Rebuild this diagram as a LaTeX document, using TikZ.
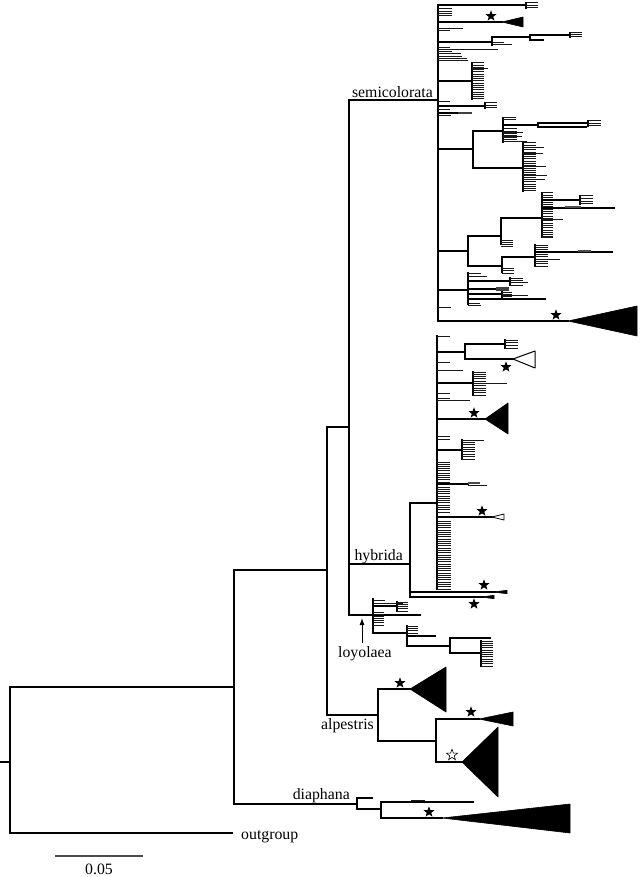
\documentclass[tikz,border=0pt]{standalone}
\usepackage{fontspec}
\setmainfont{Liberation Serif}
\usetikzlibrary{shapes.geometric,arrows.meta}
\tikzset{
 br/.style={line width=1.2pt,line cap=rect},
 tk/.style={line width=1.0pt,black!90},
 lbl/.style={font=\fontsize{15.8}{18}\selectfont,inner sep=0pt},
 fstar/.style={star,star points=5,star point ratio=2.4,minimum size=11.5pt,inner sep=0pt,fill=black},
 ostar/.style={star,star points=5,star point ratio=2.4,minimum size=11.5pt,inner sep=0pt,draw=black,line width=0.6pt,fill=white},
 clade/.style={fill=black,draw=black,line width=0.6pt,line join=round},
 oclade/.style={fill=white,draw=black,line width=1pt,line join=round},
}
% ticks: x0, x1, ytop, ybottom
\newcommand{\tks}[4]{%
  \pgfmathtruncatemacro{\tkn}{round((#4-#3)/2.3)}%
  \foreach \k in {0,...,\tkn}{%
    \pgfmathsetmacro{\tky}{#3+\k*(#4-#3)/max(\tkn,1)}%
    \draw[tk] (#1,\tky) -- (#2,\tky);}%
}
% comb: vertical + ticks
\newcommand{\cmb}[4]{\draw[br] (#1,#3)--(#1,#4); \tks{#1}{#2}{#3}{#4}}
\begin{document}
\begin{tikzpicture}[x=1pt,y=-1pt]
\useasboundingbox (0,0) rectangle (641,877);
% ---------- backbone ----------
\draw[br] (0,762)--(10,762);
\draw[br] (10,687)--(10,833);
\draw[br] (10,833)--(232,833);
\draw[br] (10,687)--(234,687);
\draw[br] (234,570)--(234,804);
\draw[br] (234,804)--(357,804);
\draw[br] (234,570)--(327,570);
\draw[br] (327,427)--(327,715);
\draw[br] (327,427)--(349,427);
\draw[br] (349,100)--(349,615);
\draw[br] (349,100)--(438,100);
\draw[br] (349,564)--(410,564);
\draw[br] (349,615)--(373,615);
\draw[br] (327,715)--(378,715);
% ---------- labels ----------
\node[lbl,anchor=base west] (og) at (241,839) {outgroup};
\node[lbl,anchor=base east] (dia) at (350,799) {diaphana};
\node[lbl,anchor=base east] (alp) at (374,729) {alpestris};
\node[lbl,anchor=base east] (hyb) at (403,560) {hybrida};
\node[lbl,anchor=base east] (sem) at (433,97.5) {semicolorata};
\node[lbl,anchor=base west] (loy) at (338,657) {loyolaea};
\node[lbl,anchor=base] (sc) at (99,874) {0.05};
\coordinate (a1) at (362,643); \coordinate (a2) at (362,618);
\draw[line width=0.9pt,-{Latex[length=7pt,width=5pt]}] (a1)--(a2);
\draw[line width=1.1pt,black!70] (55,856)--(143,856);
% ---------- diaphana ----------
\draw[br] (357,798)--(357,809);
\draw[br] (357,798)--(372,798);
\draw[br] (357,809)--(381,809);
\draw[br] (381,802)--(381,818);
\draw[br] (381,802)--(473,802);
\draw[tk] (411,800.5)--(425,800.5);
\draw[br] (381,818)--(442,818);
\draw[clade] (442,818)--(570,804)--(570,833)--cycle;
\node[fstar] (st1) at (429,812) {};
% ---------- alpestris ----------
\draw[br] (378,689)--(378,741);
\draw[br] (378,689)--(410,689);
\draw[clade] (410,689)--(446,667)--(446,712)--cycle;
\node[fstar] (st2) at (400,683) {};
\draw[br] (378,741)--(436,741);
\draw[br] (436,719)--(436,762);
\draw[br] (436,719)--(479,719);
\draw[clade] (479,719)--(513,712)--(513,726)--cycle;
\node[fstar] (st3) at (471,712) {};
\draw[br] (436,762)--(462,762);
\draw[clade] (462,762)--(498,727)--(498,797)--cycle;
\node[ostar] (st4) at (452,755) {};
% ---------- loyolaea ----------
\draw[br] (373,599)--(373,633);
\draw[tk] (373,600)--(385,600);
\draw[br] (373,606)--(397,606);
\draw[tk] (373,603)--(403,603);
\cmb{397}{408}{602}{611}
\draw[br] (373,615)--(420,615);
\tks{373}{384}{612}{625}
\draw[br] (373,633)--(407,633);
\draw[br] (407,626)--(407,646);
\tks{407}{418}{626}{633}
\draw[br] (407,636)--(435,636);
\draw[br] (407,646)--(450,646);
\draw[br] (450,638)--(450,653);
\draw[br] (450,638)--(490,638);
\draw[br] (450,653)--(481,653);
\cmb{481}{493}{641}{666}
% ---------- hybrida ----------
\draw[br] (410,503)--(410,597);
\draw[br] (410,503)--(437,503);
\draw[br] (410,592)--(495,592);
\draw[clade] (493,592)--(507,590.3)--(507,593.7)--cycle;
\draw[br] (410,597)--(483,597);
\draw[clade] (481,597)--(494,595.3)--(494,598.7)--cycle;
\node[fstar] (st5) at (484,585) {};
\node[fstar] (st6) at (474,604) {};
\draw[br] (437,336)--(437,589);
\draw[tk] (437,336)--(450,336);
\draw[br] (437,352)--(465,352);
\draw[br] (465,344)--(465,359);
\draw[br] (465,344)--(505,344);
\cmb{505}{518}{340}{348}
\draw[br] (465,359)--(513,359);
\draw[oclade] (513,359)--(535,351)--(535,368)--cycle;
\node[fstar] (st7) at (506,367) {};
\draw[tk] (437,362)--(450,362);
\draw[tk] (437,370)--(463,370);
\draw[br] (437,383)--(473,383);
\cmb{473}{486}{372}{395}
\draw[tk] (473,383)--(507,383);
\draw[tk] (437,393)--(450,393);
\draw[tk] (437,398)--(450,398);
\draw[tk] (437,400)--(470,400);
\draw[br] (437,419)--(485,419);
\draw[clade] (485,419)--(508,403)--(508,434)--cycle;
\node[fstar] (st8) at (474,413) {};
\draw[tk] (437,436)--(450,436);
\draw[tk] (437,439)--(450,439);
\draw[br] (437,450)--(462,450);
\cmb{462}{475}{440}{459}
\draw[tk] (462,440)--(484,440);
\tks{437}{450}{462}{482}
\draw[br] (437,484)--(468,484);
\draw[tk] (468,485)--(487,485);
\draw[line width=1.4pt,black!70] (468,483)--(480,483);
\tks{437}{450}{487}{512}
\draw[br] (437,517)--(492,517);
\draw[oclade,line width=0.8pt] (492,517)--(504,514)--(504,520)--cycle;
\node[fstar] (st9) at (482,511) {};
\tks{437}{451}{521}{589}
% ---------- semicolorata ----------
\draw[br] (438,5)--(438,321);
\draw[br] (438,5)--(526,5);
\cmb{526}{538}{3}{8}
\tks{438}{452}{9}{16}
\draw[br] (438,22)--(502,22);
\draw[clade] (502,22)--(523,17)--(523,27)--cycle;
\node[fstar] (st10) at (491,16) {};
\draw[tk] (438,29)--(463,29);
\draw[tk] (438,31)--(450,31);
\draw[br] (438,42)--(492,42);
\draw[br] (492,37)--(492,45);
\draw[br] (492,37)--(530,37);
\draw[br] (530,35)--(530,40);
\draw[br] (530,35)--(570,35);
\cmb{570}{582}{33}{37}
\draw[br] (530,40)--(543,40);
\draw[tk] (492,45)--(512,45);
\draw[tk] (492,43)--(504,43);
\draw[tk] (438,48)--(450,48);
\draw[tk] (438,50)--(498,50);
\draw[tk] (438,52)--(452,52);
\draw[tk] (438,54)--(461,54);
\draw[tk] (438,57)--(462,57);
\draw[tk] (438,59)--(467,59);
\draw[tk] (438,61)--(468,61);
\draw[br] (438,81)--(472,81);
\cmb{472}{484}{63}{99}
\draw[tk] (472,69)--(488,69);
\draw[tk] (438,102)--(450,102);
\draw[br] (438,106)--(485,106);
\cmb{485}{497}{103}{108}
\draw[tk] (438,110)--(450,110);
\draw[br] (438,113)--(458,113);
\draw[line width=2pt,black!75] (458,113)--(472,113);
\draw[tk] (438,116)--(451,116);
% clade at 149
\draw[br] (438,149)--(473,149);
\draw[br] (473,131)--(473,168);
\draw[br] (473,131)--(503,131);
\draw[br] (503,118)--(503,142);
\draw[tk] (503,118)--(516,118);
\draw[tk] (503,120)--(516,120);
\draw[br] (503,125)--(538,125);
\draw[br] (538,123)--(538,127);
\draw[br] (538,123)--(588,123);
\cmb{588}{601}{121}{126}
\draw[br] (538,127)--(586,127);
\tks{503}{517}{129}{140}
\draw[tk] (503,133)--(523,133);
\draw[tk] (503,137)--(522,137);
\draw[tk] (503,142)--(527,142);
\draw[br] (473,168)--(523,168);
\cmb{523}{536}{143}{191}
\draw[tk] (523,148)--(544,148);
\draw[tk] (523,154)--(543,154);
\draw[tk] (523,167)--(546,167);
\draw[tk] (523,176)--(547,176);
\draw[tk] (523,180)--(545,180);
% clade at 251
\draw[br] (438,251)--(468,251);
\draw[br] (468,236)--(468,266);
\draw[br] (468,236)--(501,236);
\draw[br] (501,218)--(501,244);
\draw[br] (501,218)--(542,218);
\cmb{542}{553}{193}{237}
\draw[br] (542,200)--(580,200);
\cmb{580}{593}{196}{204}
\draw[br] (542,208)--(614,208);
\draw[line width=1.4pt,black!70] (565,207)--(581,207);
\draw[tk] (542,220)--(563,220);
\tks{501}{513}{240}{246}
\draw[br] (468,266)--(502,266);
\draw[br] (502,257)--(502,272);
\draw[br] (502,257)--(535,257);
\cmb{535}{548}{245}{266}
\draw[br] (535,252)--(612,252);
\draw[line width=1.4pt,black!70] (578,251)--(591,251);
\draw[tk] (535,259)--(560,259);
\tks{502}{514}{268}{273}
% clade at 290
\draw[br] (438,290)--(468,290);
\draw[br] (468,273)--(468,304);
\draw[tk] (468,273)--(481,273);
\draw[tk] (468,276)--(487,276);
\draw[br] (468,281)--(510,281);
\cmb{510}{523}{278}{285}
\draw[tk] (510,282)--(528,282);
\draw[br] (468,289)--(496,289);
\draw[line width=4pt,black!75] (496,289)--(509,289);
\draw[br] (468,294)--(502,294);
\cmb{502}{512}{292}{298}
\draw[tk] (502,295)--(528,295);
\draw[br] (468,299)--(545,299);
\draw[tk] (468,303)--(480,303);
\draw[tk] (468,305)--(481,305);
\draw[tk] (438,307)--(451,307);
\draw[br] (438,321)--(568,321);
\draw[clade] (568,321)--(637,306)--(637,336)--cycle;
\node[fstar] (st11) at (556,315) {};
\end{tikzpicture}
\end{document}
